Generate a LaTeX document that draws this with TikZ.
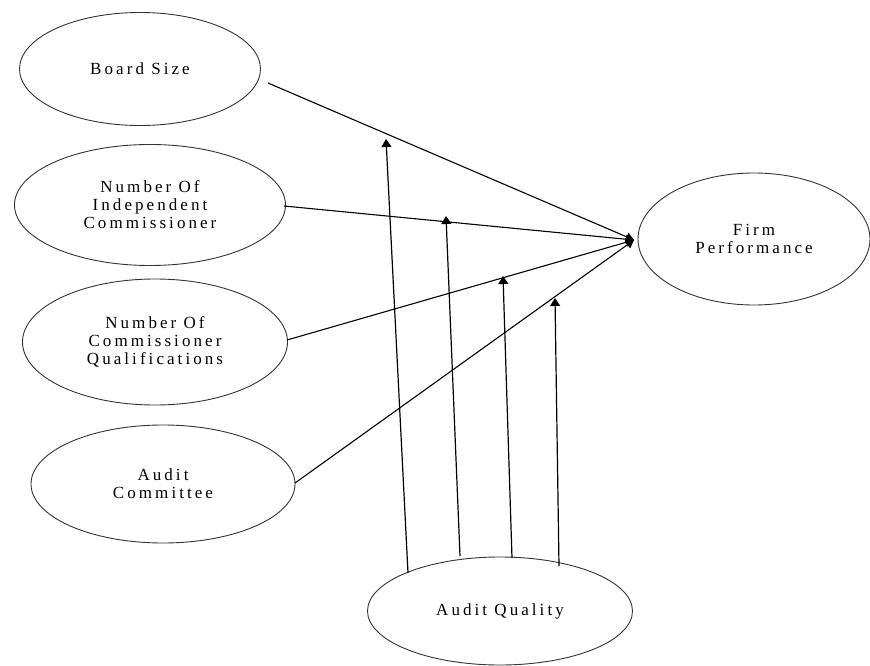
\documentclass[tikz,border=0pt]{standalone}
\usepackage{fontspec}
\setmainfont{Liberation Serif}[LetterSpace=18]
\usetikzlibrary{shapes.geometric,arrows.meta}
\begin{document}
\begin{tikzpicture}[x=1pt,y=-1pt,
  var/.style={draw=black!80,line width=0.9pt,ellipse,inner sep=0pt,align=center,
    font=\fontsize{17}{18}\selectfont},
  link/.style={line width=1.1pt,-{Triangle[length=8pt,width=9pt]}},
  modlink/.style={line width=1.2pt,-{Triangle[length=8pt,width=10pt]}}]
\useasboundingbox (0,0) rectangle (870,666);
\node[var,minimum width=241pt,minimum height=113pt] (bs) at (140,69) {Board Size};
\node[var,minimum width=271pt,minimum height=121pt] (ic) at (150,205) {Number Of\\Independent\\Commissioner};
\node[var,minimum width=265pt,minimum height=126pt] (cq) at (155,342) {Number Of\\Commissioner\\Qualifications};
\node[var,minimum width=264pt,minimum height=118pt] (ac) at (163,484) {Audit\\Committee};
\node[var,minimum width=232pt,minimum height=132pt] (fp) at (754,239) {Firm\\Performance};
\node[var,minimum width=265pt,minimum height=108pt] (aq) at (500,611) {Audit Quality};
% endpoints
\coordinate (hub) at (634,240);
\coordinate (s1) at (268,83);
\coordinate (s2) at (284,206);
\coordinate (s3) at (287,340);
\coordinate (s4) at (295,483);
\draw[link] (s1) -- (hub);
\draw[link] (s2) -- (hub);
\draw[link] (s3) -- (hub);
\draw[link] (s4) -- (hub);
% moderating arrows
\coordinate (m1b) at (408,573);
\coordinate (m1t) at (386,139);
\coordinate (m2b) at (460,556);
\coordinate (m2t) at (446,216);
\coordinate (m3b) at (512,558);
\coordinate (m3t) at (503,276);
\coordinate (m4b) at (559,566);
\coordinate (m4t) at (555,298);
\draw[modlink] (m1b) -- (m1t);
\draw[modlink] (m2b) -- (m2t);
\draw[modlink] (m3b) -- (m3t);
\draw[modlink] (m4b) -- (m4t);
\end{tikzpicture}
\end{document}
